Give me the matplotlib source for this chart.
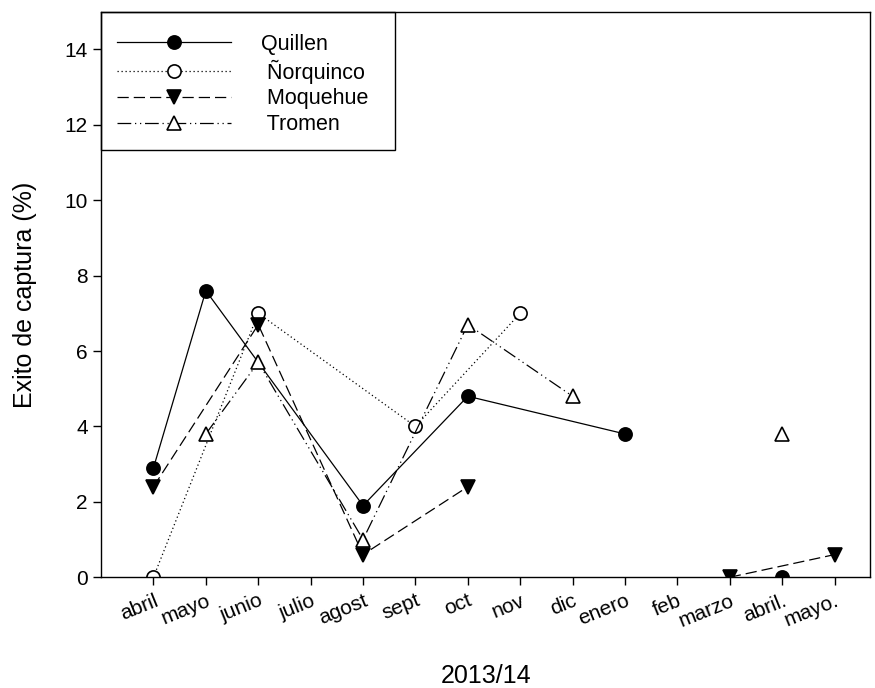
import numpy as np
import matplotlib
matplotlib.use("Agg")
import matplotlib.pyplot as plt
from matplotlib.patches import Rectangle

plt.rcParams["font.family"] = ["Liberation Sans", "DejaVu Sans"]

months = ["abril", "mayo", "junio", "julio", "agost", "sept", "oct", "nov",
          "dic", "enero", "feb", "marzo", "abril.", "mayo."]
nan = np.nan

quillen = [2.9, 7.6, nan, nan, 1.9, nan, 4.8, nan, nan, 3.8, nan, nan, 0.0, nan]
norquinco = [0.0, nan, 7.0, nan, nan, 4.0, nan, 7.0, nan, nan, nan, nan, nan, nan]
moquehue = [2.4, nan, 6.7, nan, 0.6, nan, 2.4, nan, nan, nan, nan, 0.0, nan, 0.6]
tromen = [nan, 3.8, 5.7, nan, 1.0, nan, 6.7, nan, 4.8, nan, nan, nan, 3.8, nan]

# line is interrupted after these month indices
breaks = {"Quillen": [9], "Ñorquinco": [], "Moquehue": [6], "Tromen": [8]}

styles = {
    "Quillen": dict(ls="-", marker="o", mfc="black", dashes=None),
    "Ñorquinco": dict(ls="--", marker="o", mfc="white", dashes=(1, 2.2)),
    "Moquehue": dict(ls="--", marker="v", mfc="black", dashes=(9, 4)),
    "Tromen": dict(ls="--", marker="^", mfc="white", dashes=(11, 3, 1, 3, 1, 3)),
}
labels = {"Quillen": "Quillen", "Ñorquinco": " Ñorquinco",
          "Moquehue": " Moquehue", "Tromen": " Tromen"}

fig = plt.figure(figsize=(8.75, 6.88), dpi=100)
ax = fig.add_axes([0.1155, 0.161, 0.879, 0.822])

x = np.arange(1, len(months) + 1)
handles = []
for name, vals in [("Quillen", quillen), ("Ñorquinco", norquinco),
                   ("Moquehue", moquehue), ("Tromen", tromen)]:
    st = styles[name]
    vals = np.array(vals, dtype=float)
    ok = ~np.isnan(vals)
    seg = np.zeros(len(vals), dtype=int)
    for b in breaks[name]:
        seg[b + 1:] += 1
    kw = dict(color="black", lw=0.9, marker=st["marker"], ms=9.5,
              mfc=st["mfc"], mec="black", mew=1.2, ls=st["ls"])
    if st["dashes"] is not None:
        kw["dashes"] = st["dashes"]
    for s in np.unique(seg[ok]):
        m = ok & (seg == s)
        h, = ax.plot(x[m], vals[m], **kw)
    handles.append((h, labels[name]))

ax.set_xlim(0, 14.68)
ax.set_ylim(0, 15)
ax.set_yticks(np.arange(0, 15, 2))
ax.set_xticks(x)
ax.set_xticklabels(months, rotation=22, ha="right", rotation_mode="anchor")
ax.tick_params(direction="out", length=6, width=1, labelsize=15, colors="black")
ax.tick_params(axis="x", pad=4)
for sp in ax.spines.values():
    sp.set_linewidth(1)
ax.set_xlabel("2013/14", fontsize=18, labelpad=24)
ax.set_ylabel("Exito de captura (%)", fontsize=18, labelpad=20)

# legend frame is drawn by hand
ax.add_patch(Rectangle((0, 0.756), 0.382, 0.244, transform=ax.transAxes,
                       fill=False, ec="black", lw=1, zorder=5, clip_on=False))
leg = ax.legend([h for h, _ in handles], [l for _, l in handles], loc="upper left",
                bbox_to_anchor=(0.021, 0.961), fontsize=15.5, handlelength=5.3,
                borderaxespad=0, borderpad=0, frameon=False,
                labelspacing=0.22, handletextpad=1.4)

fig.savefig("out.png", dpi=100)
